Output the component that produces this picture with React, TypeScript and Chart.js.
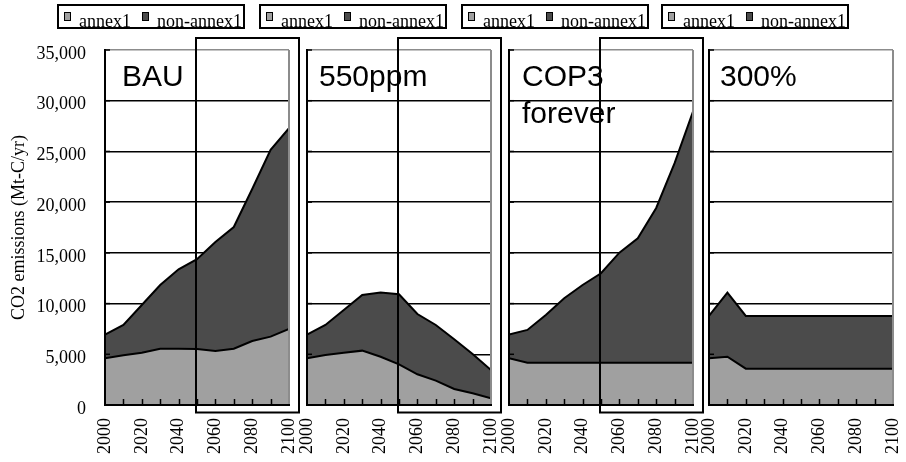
import React, { useEffect, useRef } from 'react';
import Chart from 'chart.js/auto';

// ---- data ----
const years = [2000, 2010, 2020, 2030, 2040, 2050, 2060, 2070, 2080, 2090, 2100];
const seriesNames = ['annex1', 'non-annex1'];
const scenarioNames = ['BAU', '550ppm', 'COP3\nforever', '300%'];

const bauAnnex1 = [4600, 4900, 5160, 5550, 5550, 5520, 5330, 5550, 6310, 6740, 7500];
const bauNonAnnex1 = [2350, 2990, 4700, 6280, 7830, 8850, 10750, 12000, 14990, 18410, 19790];

const ppm550Annex1 = [4600, 4930, 5160, 5360, 4760, 4010, 3030, 2400, 1580, 1150, 660];
const ppm550NonAnnex1 = [2350, 2960, 4210, 5490, 6320, 6910, 5940, 5490, 4900, 3880, 2790];

const cop3Annex1 = [4600, 4170, 4170, 4170, 4170, 4170, 4170, 4170, 4170, 4170, 4170];
const cop3NonAnnex1 = [2350, 3230, 4710, 6350, 7660, 8820, 10850, 12270, 15260, 19670, 24760];

const pct300Annex1 = [4600, 4760, 3580, 3580, 3580, 3580, 3580, 3580, 3580, 3580, 3580];
const pct300NonAnnex1 = [4180, 6320, 5200, 5200, 5200, 5200, 5200, 5200, 5200, 5200, 5200];

const annexSeries = [bauAnnex1, ppm550Annex1, cop3Annex1, pct300Annex1];
const nonAnnexSeries = [bauNonAnnex1, ppm550NonAnnex1, cop3NonAnnex1, pct300NonAnnex1];

const yTickValues = [0, 5000, 10000, 15000, 20000, 25000, 30000, 35000];
const yTitle = 'CO2 emissions (Mt-C/yr)';

// ---- styling ----
const W = 906;
const H = 462;
const CW = 980; // canvas wider than the page so the last rotated label never squeezes the plot
const plotLefts = [105, 307, 509, 709];
const plotWidth = 184;
const plotTop = 50;
const plotBottom = 405;
const labelOffsets = [17, 12, 13, 11];
const annexColor = '#a0a0a0';
const nonAnnexColor = '#4b4b4b';
const serif = '"Liberation Serif", "Times New Roman", serif';
const sans = '"Liberation Sans", Arial, sans-serif';

function makePlugin(k: number) {
  return {
    id: 'panelDecor' + k,
    afterDatasetsDraw(chart: any) {
      const { ctx, chartArea: a, scales } = chart;
      ctx.save();
      // gray right frame
      ctx.strokeStyle = '#8c8c8c';
      ctx.lineWidth = 2;
      ctx.beginPath();
      ctx.moveTo(a.right, a.top);
      ctx.lineTo(a.right, a.bottom);
      ctx.stroke();
      // inward x ticks
      ctx.strokeStyle = '#000';
      ctx.lineWidth = 1.5;
      for (let i = 1; i < years.length - 1; i++) {
        const x = Math.round(scales.x.getPixelForValue(years[i])) + 0.5;
        ctx.beginPath();
        ctx.moveTo(x, a.bottom);
        ctx.lineTo(x, a.bottom - 6);
        ctx.stroke();
      }
      // inward y ticks
      for (let i = 1; i < yTickValues.length; i++) {
        const y = scales.y.getPixelForValue(yTickValues[i]);
        ctx.beginPath();
        ctx.moveTo(a.left, y);
        ctx.lineTo(a.left + 5, y);
        ctx.stroke();
      }
      ctx.restore();
    },
    afterDraw(chart: any) {
      const { ctx, chartArea: a } = chart;
      ctx.save();
      // scenario label
      ctx.fillStyle = '#000';
      ctx.font = '30px ' + sans;
      ctx.textBaseline = 'alphabetic';
      ctx.textAlign = 'left';
      const lines = scenarioNames[k].split('\n');
      lines.forEach((ln, i) => ctx.fillText(ln, a.left + labelOffsets[k], 86 + i * 37));
      // legend box
      const L = a.left - 48;
      ctx.strokeStyle = '#000';
      ctx.lineWidth = 2;
      ctx.strokeRect(L + 1, 5, 186, 23);
      const ds = chart.data.datasets;
      const items = [
        { mx: L + 7, tx: L + 22 },
        { mx: L + 85, tx: L + 100 },
      ];
      ctx.font = '18px ' + serif;
      items.forEach((it, i) => {
        ctx.fillStyle = ds[i].backgroundColor;
        ctx.fillRect(it.mx, 12, 7, 9);
        ctx.lineWidth = 1;
        ctx.strokeStyle = '#000';
        ctx.strokeRect(it.mx + 0.5, 12.5, 6, 8);
        ctx.fillStyle = '#000';
        ctx.fillText(ds[i].label, it.tx, 27);
      });
      // extra frame
      if (k < 3) {
        ctx.lineWidth = 2;
        ctx.strokeStyle = '#000';
        ctx.strokeRect(a.left + 91, 38, 103, 374.5);
      }
      ctx.restore();
    },
  };
}

function makeConfig(k: number): any {
  const left = plotLefts[k];
  const right = left + plotWidth;
  return {
    type: 'line',
    data: {
      datasets: [
        {
          label: seriesNames[0],
          data: years.map((x, i) => ({ x, y: annexSeries[k][i] })),
          fill: 'origin',
          backgroundColor: annexColor,
          borderColor: '#000',
          borderWidth: 2,
          pointRadius: 0,
          tension: 0,
        },
        {
          label: seriesNames[1],
          data: years.map((x, i) => ({ x, y: nonAnnexSeries[k][i] })),
          fill: '-1',
          backgroundColor: nonAnnexColor,
          borderColor: '#000',
          borderWidth: 2,
          pointRadius: 0,
          tension: 0,
        },
      ],
    },
    options: {
      responsive: false,
      animation: false,
      devicePixelRatio: 1,
      events: [],
      layout: {
        padding: { left: k === 0 ? 0 : left, right: CW - right, top: plotTop, bottom: 0 },
      },
      plugins: {
        legend: { display: false },
        tooltip: { enabled: false },
        title: { display: false },
      },
      scales: {
        x: {
          type: 'linear',
          min: 2000,
          max: 2100,
          afterFit: (s: any) => {
            s.height = H - plotBottom;
          },
          ticks: {
            stepSize: 20,
            autoSkip: false,
            minRotation: 90,
            maxRotation: 90,
            padding: 13,
            color: '#000',
            font: { family: serif, size: 18 },
            callback: (v: any) => String(v),
          },
          grid: { display: false, drawTicks: false },
          border: { display: true, color: '#000', width: 2, z: 1 },
        },
        y: {
          type: 'linear',
          stacked: true,
          min: 0,
          max: 35000,
          afterFit: (s: any) => {
            s.width = k === 0 ? left : 0;
          },
          ticks: {
            display: k === 0,
            stepSize: 5000,
            padding: 19,
            labelOffset: 4,
            color: '#000',
            font: { family: serif, size: 18 },
            callback: (v: any) => Number(v).toLocaleString('en-US'),
          },
          title: {
            display: k === 0,
            text: yTitle,
            color: '#000',
            font: { family: serif, size: 18 },
            padding: { top: 8, bottom: 0 },
          },
          grid: {
            drawTicks: false,
            lineWidth: 1.5,
            color: (c: any) => (c.tick && c.tick.value === 35000 ? '#8c8c8c' : '#000'),
          },
          border: { display: true, color: '#000', width: 2, z: 1 },
        },
      },
    },
    plugins: [makePlugin(k)],
  };
}

export default function App() {
  const canvases = useRef<(HTMLCanvasElement | null)[]>([]);

  useEffect(() => {
    document.body.style.margin = '0';
    const charts = scenarioNames.map((_, k) => new Chart(canvases.current[k] as HTMLCanvasElement, makeConfig(k)));
    return () => charts.forEach((c) => c.destroy());
  }, []);

  return (
    <div style={{ position: 'absolute', left: 0, top: 0, width: W, height: H, overflow: 'hidden', background: '#fff' }}>
      {scenarioNames.map((_, k) => (
        <canvas
          key={k}
          ref={(el) => {
            canvases.current[k] = el;
          }}
          width={CW}
          height={H}
          style={{ position: 'absolute', left: 0, top: 0, width: CW, height: H }}
        />
      ))}
    </div>
  );
}
